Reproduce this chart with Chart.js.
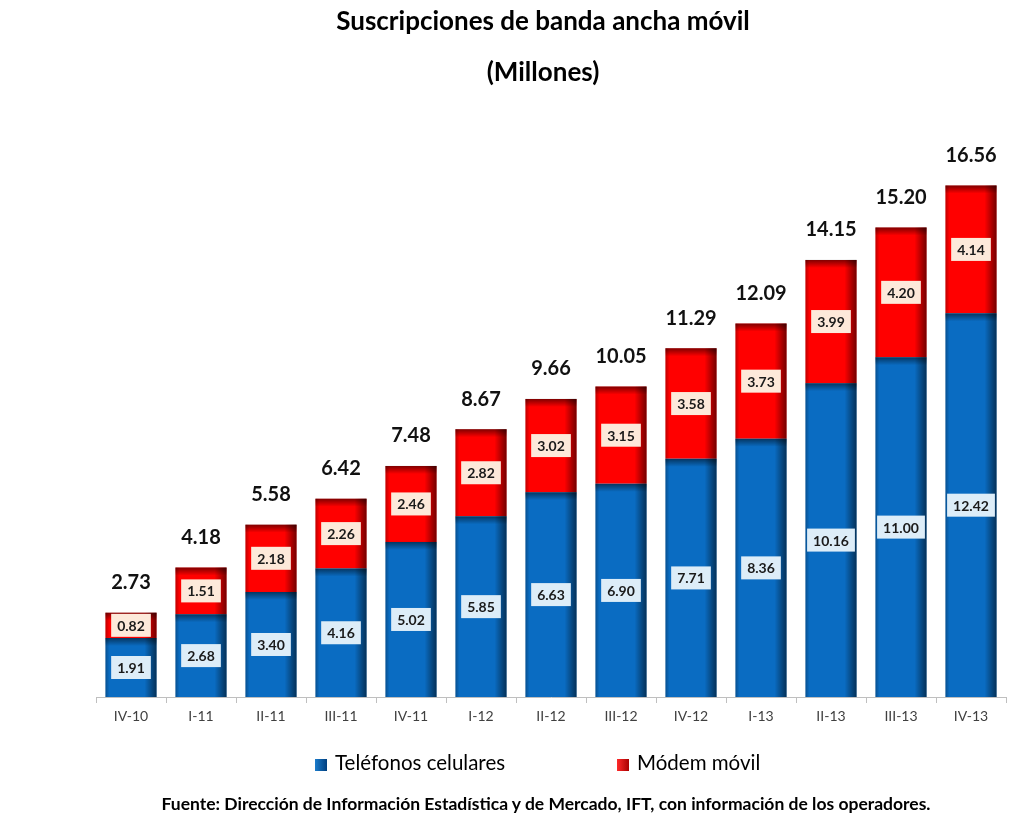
<!DOCTYPE html>
<html lang="es">
<head>
<meta charset="utf-8">
<title>Suscripciones de banda ancha móvil</title>
<script src="https://cdn.jsdelivr.net/npm/chart.js@4.4.1/dist/chart.umd.min.js"></script>
<style>
    html, body { margin: 0; padding: 0; background: #ffffff; }
    #wrap { position: relative; width: 1024px; height: 817px; font-family: Lato, "Open Sans", sans-serif; }
    #chart { position: absolute; left: 0; top: 0; }
    .title { position: absolute; left: 62px; width: 962px; text-align: center; font-weight: bold; font-size: 26px; color: #000; line-height: 30px; }
    #legend { position: absolute; top: 750px; left: 0; width: 1024px; height: 24px; }
    .item { position: absolute; top: 0; font-size: 20.5px; color: #000; line-height: 24px; }
    .box { display: inline-block; width: 12px; height: 12px; margin-right: 8px; vertical-align: -1px; }
    #footer { position: absolute; top: 794px; left: 68px; width: 956px; text-align: center; font-weight: bold; font-size: 17.5px; color: #000; line-height: 20px; }
</style>
</head>
<body>
<div id="wrap">
    <canvas id="chart" width="1024" height="817"></canvas>
    <div class="title" style="top:5px;">Suscripciones de banda ancha móvil</div>
    <div class="title" style="top:56px;">(Millones)</div>
    <div id="legend">
        <div class="item" style="left:315px;"><span class="box" style="background:linear-gradient(to right,#1b7ccc,#003f7f);"></span>Teléfonos celulares</div>
        <div class="item" style="left:617px;"><span class="box" style="background:linear-gradient(to right,#ff2a2a,#a80000);"></span>Módem móvil</div>
    </div>
    <div id="footer">Fuente: Dirección de Información Estadística y de Mercado, IFT, con información de los operadores.</div>
</div>
<script>
// Data
const quarters = ['IV-10', 'I-11', 'II-11', 'III-11', 'IV-11', 'I-12', 'II-12', 'III-12', 'IV-12', 'I-13', 'II-13', 'III-13', 'IV-13'];
const telefonos = [1.91, 2.68, 3.40, 4.16, 5.02, 5.85, 6.63, 6.90, 7.71, 8.36, 10.16, 11.00, 12.42];
const modem = [0.82, 1.51, 2.18, 2.26, 2.46, 2.82, 3.02, 3.15, 3.58, 3.73, 3.99, 4.20, 4.14];
const totales = [2.73, 4.18, 5.58, 6.42, 7.48, 8.67, 9.66, 10.05, 11.29, 12.09, 14.15, 15.20, 16.56];

const labelBg = ['#ddedf8', '#fde9da'];

// Shading that mimics the inner shadow of the original bars
const shadePlugin = {
    id: 'shade',
    afterDatasetsDraw(chart) {
        const c = chart.ctx;
        chart.data.datasets.forEach((ds, di) => {
            chart.getDatasetMeta(di).data.forEach(bar => {
                const left = bar.x - bar.width / 2;
                const right = bar.x + bar.width / 2;
                const top = Math.min(bar.y, bar.base);
                const h = Math.abs(bar.base - bar.y);
                c.save();
                // right edge
                let g = c.createLinearGradient(right - 12, 0, right, 0);
                g.addColorStop(0, 'rgba(0,0,0,0)');
                g.addColorStop(1, 'rgba(0,0,0,0.55)');
                c.fillStyle = g;
                c.fillRect(right - 12, top, 12, h);
                // left edge
                g = c.createLinearGradient(left, 0, left + 4, 0);
                g.addColorStop(0, 'rgba(0,0,0,0.25)');
                g.addColorStop(1, 'rgba(0,0,0,0)');
                c.fillStyle = g;
                c.fillRect(left, top, 4, h);
                // top edge
                g = c.createLinearGradient(0, top, 0, top + 8);
                g.addColorStop(0, 'rgba(0,0,0,0.5)');
                g.addColorStop(1, 'rgba(0,0,0,0)');
                c.fillStyle = g;
                c.fillRect(left, top, bar.width, Math.min(8, h));
                c.restore();
            });
        });
    }
};

// Value boxes inside segments and totals above the bars
const labelPlugin = {
    id: 'labels',
    afterDatasetsDraw(chart) {
        const c = chart.ctx;
        c.save();
        c.textAlign = 'center';
        c.textBaseline = 'middle';
        chart.data.datasets.forEach((ds, di) => {
            chart.getDatasetMeta(di).data.forEach((bar, i) => {
                const txt = ds.data[i].toFixed(2);
                const cy = (bar.y + bar.base) / 2;
                c.font = 'bold 14px Lato, sans-serif';
                const w = c.measureText(txt).width + 12;
                const h = 23;
                c.fillStyle = labelBg[di];
                c.fillRect(bar.x - w / 2, cy - h / 2, w, h);
                c.fillStyle = '#1a1a1a';
                c.fillText(txt, bar.x, cy + 1);
            });
        });
        const top = chart.getDatasetMeta(1).data;
        c.font = 'bold 20px Lato, sans-serif';
        c.fillStyle = '#111111';
        top.forEach((bar, i) => {
            c.fillText(totales[i].toFixed(2), bar.x, bar.y - 30);
        });
        c.restore();
    }
};

const ctx = document.getElementById('chart').getContext('2d');
new Chart(ctx, {
    type: 'bar',
    data: {
        labels: quarters,
        datasets: [
            {
                label: 'Teléfonos celulares',
                data: telefonos,
                backgroundColor: '#0a6cc2',
                barPercentage: 0.73,
                categoryPercentage: 1.0
            },
            {
                label: 'Módem móvil',
                data: modem,
                backgroundColor: '#ff0000',
                barPercentage: 0.73,
                categoryPercentage: 1.0
            }
        ]
    },
    options: {
        responsive: false,
        animation: false,
        layout: { padding: { top: 141, left: 96, right: 18, bottom: 92 } },
        scales: {
            x: {
                stacked: true,
                grid: { drawOnChartArea: false, drawTicks: true, tickLength: 6, color: '#bfbfbf' },
                border: { display: true, color: '#bfbfbf' },
                ticks: { color: '#404040', padding: 5, font: { family: 'Lato', size: 14 } },
                afterFit: s => { s.height = 28; }
            },
            y: {
                stacked: true,
                display: false,
                min: 0,
                max: 18
            }
        },
        plugins: {
            legend: { display: false },
            tooltip: { enabled: false }
        }
    },
    plugins: [shadePlugin, labelPlugin]
});
</script>
</body>
</html>
